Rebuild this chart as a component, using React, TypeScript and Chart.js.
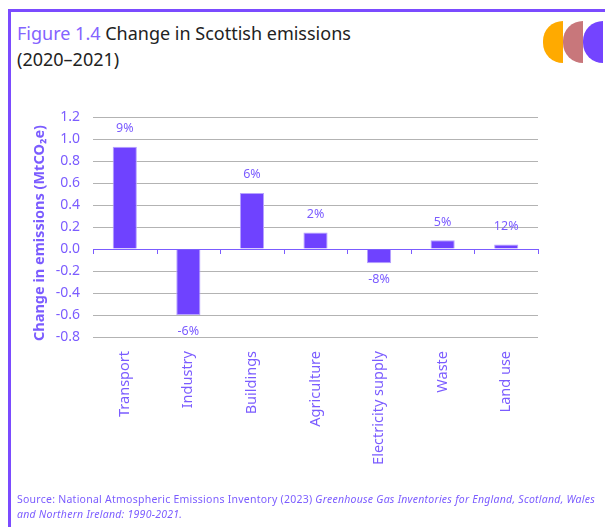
import React, { useEffect, useRef } from "react";
import { Chart, registerables } from "chart.js";

Chart.register(...registerables);

const categories = ["Transport", "Industry", "Buildings", "Agriculture", "Electricity supply", "Waste", "Land use"];
const changeMtCO2e = [0.93, -0.6, 0.51, 0.15, -0.13, 0.08, 0.04];
const percentLabels = ["9%", "-6%", "6%", "2%", "-8%", "5%", "12%"];
const yTickMin = -0.8;
const yTickMax = 1.2;
const yTickStep = 0.2;
const yAxisTitle = "Change in emissions (MtCO₂e)";

const PURPLE = "#7B5CFF";
const BAR = "#6F42FF";
const FONT = "'Noto Sans', sans-serif";

const labelPlugin = {
  id: "pctLabels",
  afterDatasetsDraw(chart: any) {
    const { ctx, scales } = chart;
    const meta = chart.getDatasetMeta(0);
    const x = scales.x;
    const y = scales.y;
    const y0 = y.getPixelForValue(0);
    ctx.save();
    // zero axis line and tick marks at category boundaries
    ctx.strokeStyle = PURPLE;
    ctx.lineWidth = 1;
    const n = categories.length;
    const step = (x.right - x.left) / n;
    for (let i = 0; i <= n; i++) {
      const px = Math.round(x.left + i * step) + 0.5;
      ctx.beginPath();
      ctx.moveTo(px, y0);
      ctx.lineTo(px, y0 + 5);
      ctx.stroke();
    }
    ctx.beginPath();
    ctx.moveTo(x.left, Math.round(y0) + 0.5);
    ctx.lineTo(x.right, Math.round(y0) + 0.5);
    ctx.stroke();
    // percent labels
    ctx.fillStyle = PURPLE;
    ctx.font = `12.5px ${FONT}`;
    ctx.textAlign = "center";
    ctx.textBaseline = "middle";
    meta.data.forEach((bar: any, i: number) => {
      const v = changeMtCO2e[i];
      const ty = v >= 0 ? bar.y - 18 : bar.y + 16;
      ctx.fillText(percentLabels[i], bar.x, ty);
    });
    // y axis title
    ctx.translate(40, (y.top + y.bottom) / 2 + 6);
    ctx.rotate(-Math.PI / 2);
    ctx.font = `bold 14.5px ${FONT}`;
    ctx.fillText(yAxisTitle, 0, 0);
    ctx.restore();
  },
};

function ChartCanvas() {
  const ref = useRef<HTMLCanvasElement>(null);
  useEffect(() => {
    if (!ref.current) return;
    const chart = new Chart(ref.current, {
      type: "bar",
      data: {
        labels: categories,
        datasets: [
          {
            data: changeMtCO2e,
            backgroundColor: BAR,
            borderColor: "#B7A2FF",
            borderWidth: 1,
            barPercentage: 0.38,
            categoryPercentage: 1,
          },
        ],
      },
      options: {
        responsive: false,
        animation: false,
        events: [],
        layout: { padding: { left: 24, right: 67, top: 117, bottom: 0 } },
        plugins: { legend: { display: false }, tooltip: { enabled: false }, title: { display: false } },
        scales: {
          x: {
            grid: { display: false },
            border: { display: false },
            ticks: {
              color: PURPLE,
              font: { family: FONT, size: 14.5 },
              minRotation: 90,
              maxRotation: 90,
              padding: 6,
              autoSkip: false,
            },
            afterFit(scale: any) {
              scale.height = 527 - 337;
            },
          },
          y: {
            min: yTickMin,
            max: yTickMax,
            grid: {
              color: (c: any) => (c.tick && Math.abs(c.tick.value) < 1e-9 ? "rgba(0,0,0,0)" : "#B3B3B3"),
              drawTicks: false,
              lineWidth: 1,
            },
            border: { display: false },
            ticks: {
              stepSize: yTickStep,
              color: PURPLE,
              font: { family: FONT, size: 14 },
              padding: 13,
              callback: (v: any) => Number(v).toFixed(1),
            },
            afterFit(scale: any) {
              scale.width = 93 - 24;
            },
          },
        },
      },
      plugins: [labelPlugin],
    });
    return () => chart.destroy();
  }, []);
  return <canvas ref={ref} width={605} height={527} style={{ position: "absolute", left: 0, top: 0, width: 605, height: 527 }} />;
}

function Half({ left, color }: { left: number; color: string }) {
  return (
    <div
      style={{
        position: "absolute",
        left,
        top: 21,
        width: 20,
        height: 42,
        background: color,
        borderRadius: "21px 0 0 21px",
      }}
    />
  );
}

export default function App() {
  return (
    <div style={{ position: "absolute", left: 0, top: 0, width: 605, height: 527, background: "#fff", overflow: "hidden" }}>
      <div style={{ position: "absolute", left: 8, top: 9, width: 597, height: 3, background: "#7B4BFF" }} />
      <div style={{ position: "absolute", left: 8, top: 9, width: 3, height: 518, background: "#7B4BFF" }} />
      <div
        style={{
          position: "absolute",
          left: 17,
          top: 20,
          fontFamily: FONT,
          fontSize: 18,
          lineHeight: "26px",
          color: "#222",
          whiteSpace: "nowrap",
        }}
      >
        <span style={{ color: "#8463FF" }}>Figure 1.4</span> Change in Scottish emissions
        <br />
        (2020–2021)
      </div>
      <Half left={543} color="#FFAA00" />
      <Half left={563} color="#C8777B" />
      <Half left={583} color="#7444FF" />
      <ChartCanvas />
      <div
        style={{
          position: "absolute",
          left: 17,
          top: 492,
          fontFamily: FONT,
          fontSize: 10.5,
          letterSpacing: "0.25px",
          lineHeight: "15px",
          color: PURPLE,
          whiteSpace: "nowrap",
        }}
      >
        Source: National Atmospheric Emissions Inventory (2023){" "}
        <i>Greenhouse Gas Inventories for England, Scotland, Wales</i>
        <br />
        <i>and Northern Ireland: 1990-2021.</i>
      </div>
    </div>
  );
}
